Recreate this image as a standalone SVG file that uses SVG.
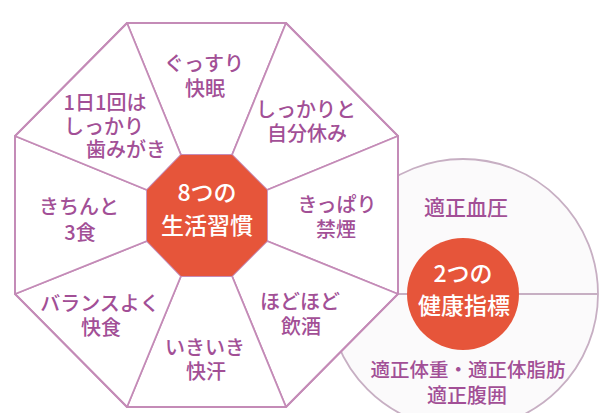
<svg xmlns="http://www.w3.org/2000/svg" width="599" height="413" viewBox="0 0 599 413">
<style>
.seg{fill:#ffffff;stroke:#c48bb7;stroke-width:1.8;stroke-linejoin:round}
.ln{stroke:#c48bb7;stroke-width:1.8;fill:none}
.cl{stroke:#c7afc3;stroke-width:1.8}
.t{font-family:"Noto Sans CJK JP","Noto Sans",sans-serif;font-size:20px;fill:#a24f96;text-anchor:middle;font-weight:500}
.w{font-family:"Noto Sans CJK JP","Noto Sans",sans-serif;font-size:23px;fill:#ffffff;text-anchor:middle;font-weight:500}
.hub{fill:#e6553a}
</style>
<rect width="599" height="413" fill="#ffffff"/>
<g id="indicators">
  <circle cx="463" cy="294" r="135" fill="#fbfafb" class="cl"/>
  <line x1="398" y1="294" x2="598" y2="294" class="cl"/>
</g>
<g id="seg-sleep"><polygon class="seg" points="127,23 286,23 232,155 181,155"/><text class="t" x="204" y="71">ぐっすり</text><text class="t" x="205" y="96">快眠</text></g>
<g id="seg-rest"><polygon class="seg" points="286,23 398,136 267,190 232,155"/><text class="t" x="306" y="117">しっかりと</text><text class="t" x="307" y="141">自分休み</text></g>
<g id="seg-smoke"><polygon class="seg" points="398,136 398,294 267,241 267,190"/><text class="t" x="337" y="212">きっぱり</text><text class="t" x="336" y="237">禁煙</text></g>
<g id="seg-drink"><polygon class="seg" points="398,294 286,407 232,276 267,241"/><text class="t" x="300" y="309">ほどほど</text><text class="t" x="301" y="334">飲酒</text></g>
<g id="seg-sweat"><polygon class="seg" points="286,407 127,407 181,276 232,276"/><text class="t" x="205" y="355">いきいき</text><text class="t" x="206" y="379">快汗</text></g>
<g id="seg-meal"><polygon class="seg" points="127,407 15,294 147,241 181,276"/><text class="t" x="100" y="311">バランスよく</text><text class="t" x="101" y="335">快食</text></g>
<g id="seg-3meals"><polygon class="seg" points="15,294 15,136 147,190 147,241"/><text class="t" x="79" y="214">きちんと</text><text class="t" x="80" y="240">3食</text></g>
<g id="seg-teeth"><polygon class="seg" points="15,136 127,23 181,155 147,190"/><text class="t" x="105" y="110">1日1回は</text><text class="t" x="104" y="134">しっかり</text><text class="t" x="126" y="157">歯みがき</text></g>
<g id="connectors">
  <polygon class="ln" points="127,23 286,23 398,136 398,294 286,407 127,407 15,294 15,136"/>
</g>
<g id="hub-habits">
  <polygon class="hub" points="181,155 232,155 267,190 267,241 232,276 181,276 147,241 147,190"/>
  <text class="w" x="207" y="201" font-size="22">8つの</text>
  <text class="w" x="207" y="234">生活習慣</text>
</g>
<g id="ind-bp"><text class="t" x="466" y="215" style="font-size:21px">適正血圧</text></g>
<g id="ind-weight"><text class="t" x="468" y="377" style="font-size:19.5px">適正体重・適正体脂肪</text><text class="t" x="467" y="403">適正腹囲</text></g>
<g id="hub-indicators">
  <circle class="hub" cx="463" cy="294" r="56"/>
  <text class="w" x="463" y="282" font-size="22">2つの</text>
  <text class="w" x="464" y="314">健康指標</text>
</g>
</svg>
